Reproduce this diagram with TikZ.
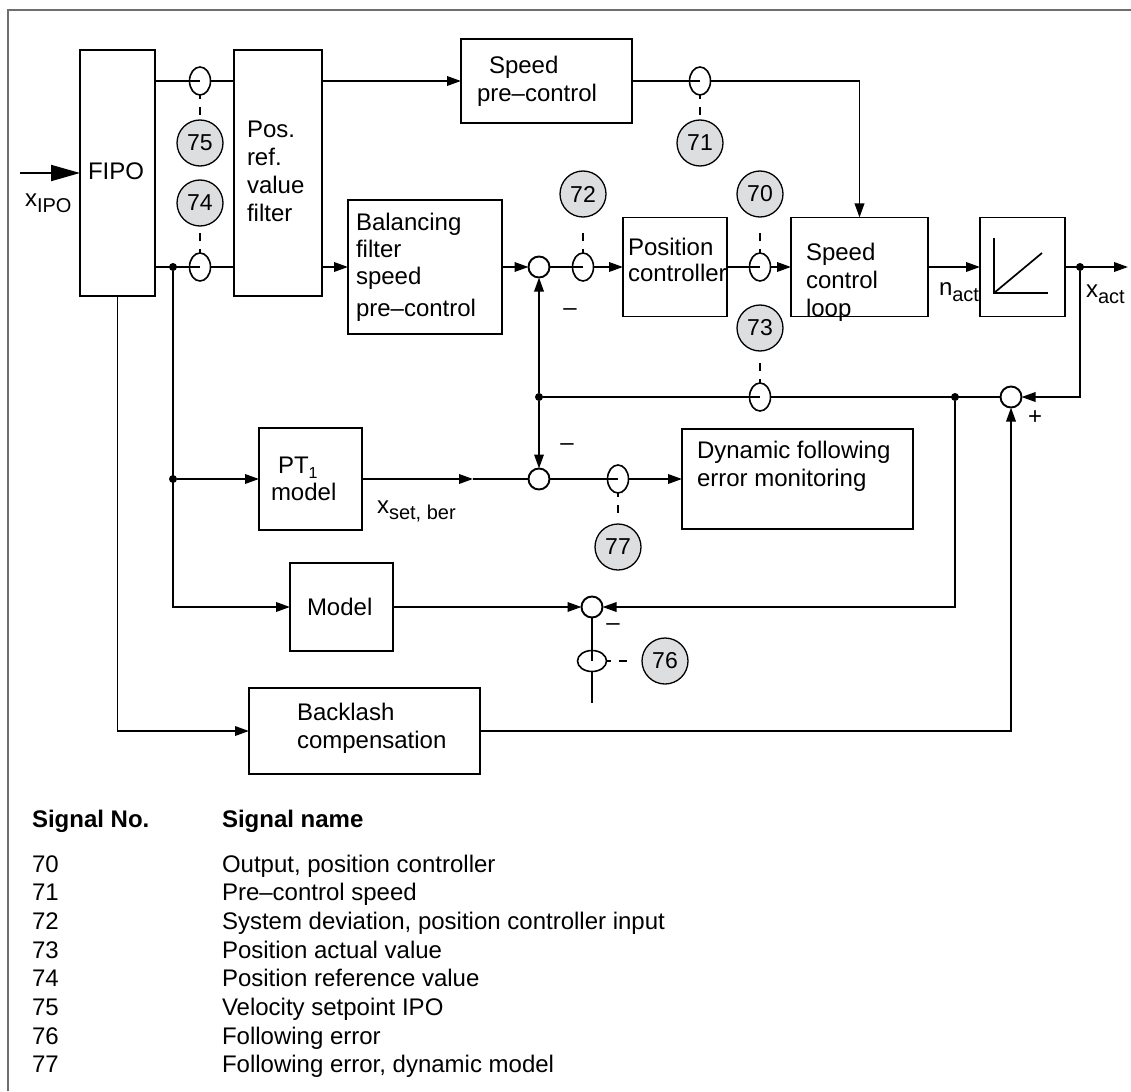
\documentclass[tikz,border=0pt]{standalone}
\usepackage{fontspec}
\setmainfont{Liberation Sans}
\usetikzlibrary{arrows.meta,calc,shapes.geometric}
\pgfdeclarelayer{bg}
\pgfsetlayers{bg,main}
\definecolor{sigfill}{HTML}{DDDEE0}
\definecolor{framegray}{HTML}{6E6E6E}
\newcommand\lsub[1]{\raisebox{-6pt}{\fontsize{20}{20}\selectfont #1}}
\newcommand\lsubsmall[1]{\raisebox{-5pt}{\fontsize{16}{16}\selectfont #1}}
\begin{document}
\begin{tikzpicture}[x=1pt,y=-1pt,
  every node/.style={inner sep=0pt, outer sep=0pt, font=\fontsize{24}{28}\selectfont},
  ln/.style={line width=1.9pt},
  arr/.style={line width=1.9pt, -{Triangle[length=14pt,width=9.5pt]}},
  bigarr/.style={line width=1.9pt, -{Triangle[length=29pt,width=16pt]}},
  blk/.style={draw, line width=1.9pt},
  mp/.style={ellipse, draw, fill=white, line width=1.6pt, minimum width=21pt, minimum height=28pt},
  mph/.style={ellipse, draw, fill=white, line width=1.6pt, minimum width=29pt, minimum height=21pt},
  sig/.style={circle, draw, fill=sigfill, line width=1.3pt, minimum size=46pt, font=\fontsize{23}{23}\selectfont},
  sumc/.style={circle, draw, fill=white, line width=1.9pt, minimum size=21pt},
  dotc/.style={circle, fill, minimum size=8pt},
  tap/.style={line width=1.4pt, dash pattern=on 4pt off 8pt on 8pt off 80pt},
  txt/.style={anchor=base west}
]
\useasboundingbox (0,0) rectangle (1131,1091);
\draw[framegray, line width=2.2pt] (8,1091) -- (8,10) -- (1131,10);

% blocks
\node[blk, minimum width=75pt, minimum height=246pt] (fipo) at (117.5,173) {};
\node[blk, minimum width=88pt, minimum height=246pt] (posref) at (278,173) {};
\node[blk, minimum width=171pt, minimum height=84pt] (spc) at (546.5,81) {};
\node[blk, minimum width=154pt, minimum height=134pt] (bal) at (425,267) {};
\node[blk, minimum width=104pt, minimum height=99pt] (posc) at (675,267) {};
\node[blk, minimum width=137pt, minimum height=99pt] (scl) at (859.5,267) {};
\node[blk, minimum width=85pt, minimum height=99pt] (integ) at (1022.5,267) {};
\node[blk, minimum width=103pt, minimum height=102pt] (pt1) at (310.5,479) {};
\node[blk, minimum width=231pt, minimum height=100pt] (dyn) at (797.5,479) {};
\node[blk, minimum width=103pt, minimum height=88pt] (model) at (341.5,607) {};
\node[blk, minimum width=231pt, minimum height=86pt] (back) at (364.5,731) {};

% measuring points
\node[mp] (o75) at (200,81) {};
\node[mp] (o74) at (200,267) {};
\node[mp] (o71) at (700,81) {};
\node[mp] (o72) at (583,267) {};
\node[mp] (o70) at (760,267) {};
\node[mp] (o73) at (760,397) {};
\node[mp] (o77) at (618,479) {};
\node[mph] (o76) at (592,661) {};

% summing points
\node[sumc] (s1) at (539,267) {};
\node[sumc] (s2) at (539,479) {};
\node[sumc] (s3) at (592,607) {};
\node[sumc] (s4) at (1011,397) {};

% junction dots
\node[dotc] (d1) at (173,267) {};
\node[dotc] (d2) at (173,479) {};
\node[dotc] (d3) at (539,397) {};
\node[dotc] (d4) at (955,397) {};
\node[dotc] (d5) at (1080,267) {};

% signal circles
\node[sig] (c75) at (200,143) {75};
\node[sig] (c74) at (200,203) {74};
\node[sig] (c71) at (700,143) {71};
\node[sig] (c72) at (583,194) {72};
\node[sig] (c70) at (760,194) {70};
\node[sig] (c73) at (760,328) {73};
\node[sig] (c77) at (618,547) {77};
\node[sig] (c76) at (665,661) {76};

\coordinate (xin) at (20,173);
\coordinate (xout) at (1128,267);
\coordinate (pm) at (473,479);
\coordinate (e76) at (592,703);

\begin{pgfonlayer}{bg}
\draw[bigarr] (xin) -- (fipo.west |- xin);
\draw[ln] (fipo.east |- o75) -- (posref.west |- o75);
\draw[arr] (posref.east |- spc.west) -- (spc.west);
\draw[arr] (spc.east) -| (scl.north);
\draw[ln] (fipo.east |- o74) -- (posref.west |- o74);
\draw[arr] (posref.east |- bal.west) -- (bal.west);
\draw[arr] (bal.east) -- (s1.west);
\draw[arr] (s1.east) -- (posc.west);
\draw[arr] (posc.east) -- (scl.west);
\draw[arr] (scl.east) -- (integ.west);
\draw[arr] (integ.east) -- (xout);
\draw[arr] (d5) |- (s4.east);
\draw[ln] (s4.west) -- (d3);
\draw[arr] (d3) -- (s1.south);
\draw[arr] (d3) -- (s2.north);
\draw[arr] (d1) |- (model.west);
\draw[arr] (d2) -- (pt1.west);
\draw[arr] (pt1.east) -- (pm);
\draw[ln] (pm) -- (s2.west);
\draw[arr] (s2.east) -- (dyn.west);
\draw[arr] (model.east) -- (s3.west);
\draw[arr] (d4) |- (s3.east);
\draw[line width=1.6pt] (s3.south) -- (e76);
\draw[arr] (fipo.south) |- (back.west);
\draw[arr] (back.east) -| (s4.south);
% taps
\draw[tap] (o75.south) -- (c75.north);
\draw[tap] (o74.north) -- (c74.south);
\draw[tap] (o71.south) -- (c71.north);
\draw[tap] (o72.north) -- (c72.south);
\draw[tap] (o70.north) -- (c70.south);
\draw[tap] (o73.north) -- (c73.south);
\draw[tap] (o77.south) -- (c77.north);
\draw[tap] (o76.east) -- (c76.west);
\end{pgfonlayer}

% half lines inside measuring points
\foreach \o in {o75,o74,o71,o72,o70,o73,o77}{\draw[line width=1.6pt] (\o.west) -- (\o.center);}
\draw[line width=1.6pt] (o76.north) -- (o76.center);

% integrator symbol
\draw[line width=1.7pt] ($(integ.center)+(-28.5,-29)$) -- ($(integ.center)+(-28.5,26)$) -- ($(integ.center)+(25.5,26)$);
\draw[line width=1.7pt] ($(integ.center)+(-28.5,26)$) -- ($(integ.center)+(19.5,-14)$);

% texts
\node[txt] (tfipo) at (88,180) {FIPO};
\node[txt] (txipo) at (25,207) {x\lsub{IPO}};
\node[txt] (tpr1) at (247,138) {Pos.};
\node[txt] (tpr2) at (247,166) {ref.};
\node[txt] (tpr3) at (247,194) {value};
\node[txt] (tpr4) at (247,222) {filter};
\node[txt] (tsp1) at (489,74) {Speed};
\node[txt] (tsp2) at (477,102) {pre–control};
\node[txt] (tb1) at (356,230) {Balancing};
\node[txt] (tb2) at (356,257) {filter};
\node[txt] (tb3) at (356,284) {speed};
\node[txt] (tb4) at (356,316) {pre–control};
\node[txt] (tpc1) at (628,255) {Position};
\node[txt] (tpc2) at (628,281) {controller};
\node[txt] (tsc1) at (806,260) {Speed};
\node[txt] (tsc2) at (806,288) {control};
\node[txt] (tsc3) at (806,316) {loop};
\node[txt] (tnact) at (939,295) {n\lsub{act}};
\node[txt] (txact) at (1086,297) {x\lsub{act}};
\node[txt] (tpt1) at (278,473) {PT\lsubsmall{1}};
\node[txt] (tpt2) at (271,500) {model};
\node[txt] (txset) at (377,513) {x\lsub{set, ber}};
\node[txt] (td1) at (697,458) {Dynamic following};
\node[txt] (td2) at (697,486) {error monitoring};
\node[txt] (tmod) at (307,615) {Model};
\node[txt] (tbk1) at (297,720) {Backlash};
\node[txt] (tbk2) at (297,748) {compensation};
\node (mn1) at (570,312) {–};
\node (mn2) at (567,447) {–};
\node (mn3) at (613,627) {–};
\node (pl1) at (1035,418) {+};

% table
\node[txt, font=\fontsize{24}{28}\selectfont\bfseries] (th1) at (32,827) {Signal No.};
\node[txt, font=\fontsize{24}{28}\selectfont\bfseries] (th2) at (222,827) {Signal name};
\foreach \n/\t [count=\i from 0] in {70/{Output, position controller},71/{Pre–control speed},72/{System deviation, position controller input},73/{Position actual value},74/{Position reference value},75/{Velocity setpoint IPO},76/{Following error},77/{Following error, dynamic model}}{
  \node[txt] (tn\n) at (32,872+28.7*\i) {\n};
  \node[txt] (tt\n) at (222,872+28.7*\i) {\t};
}
\end{tikzpicture}
\end{document}
